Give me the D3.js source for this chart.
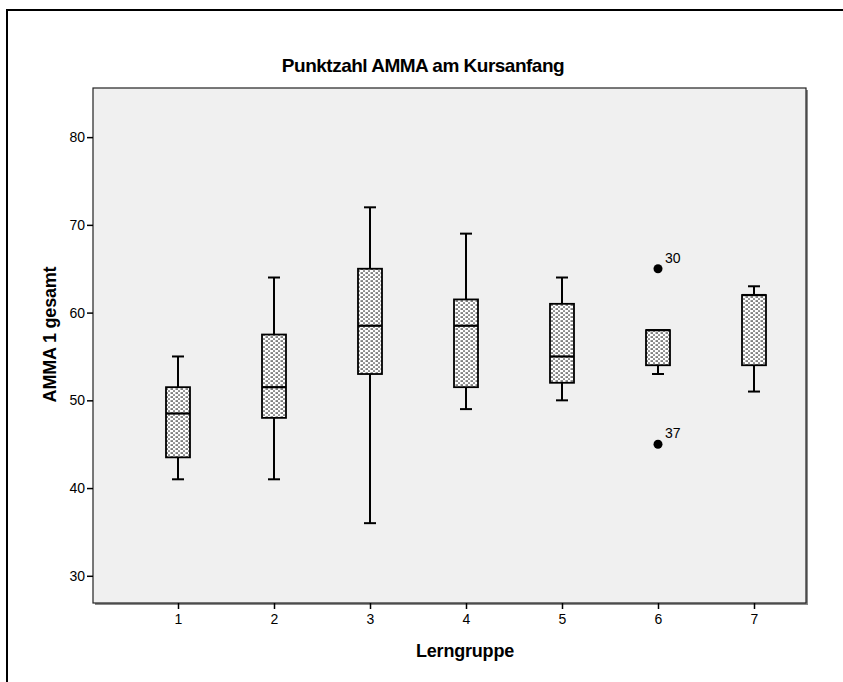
<!DOCTYPE html>
<html>
<head>
<meta charset="utf-8">
<script src="https://cdn.jsdelivr.net/npm/d3@7"></script>
<style>
  html, body { margin: 0; padding: 0; background: #ffffff; overflow: hidden; }
  svg { display: block; overflow: hidden; font-family: "Liberation Sans", Arial, sans-serif; }
</style>
</head>
<body>
<svg id="chart" width="843" height="682"></svg>
<script>
// Lerngruppen (x categories)
const groups = [1, 2, 3, 4, 5, 6, 7];
// Box-plot statistics per group
const whiskerLow  = [41, 41, 36, 49, 50, 53, 51];
const q1          = [43.5, 48, 53, 51.5, 52, 54, 54];
const median      = [48.5, 51.5, 58.5, 58.5, 55, 58, 62];
const q3          = [51.5, 57.5, 65, 61.5, 61, 58, 62];
const whiskerHigh = [55, 64, 72, 69, 64, 58, 63];
// Outliers: group, value, case label
const outlierGroup = [6, 6];
const outlierValue = [65, 45];
const outlierCase  = ["30", "37"];
// Y axis ticks
const yTicks = [30, 40, 50, 60, 70, 80];

const svg = d3.select("#chart");

const plot = { left: 93, right: 806, top: 88, bottom: 603 };

const x = d3.scaleLinear().domain([1, 7]).range([178, 754]);
const y = d3.scaleLinear().domain([26.9, 85.6]).range([plot.bottom, plot.top]);

// Dotted fill pattern for boxes
const defs = svg.append("defs");
const pat = defs.append("pattern")
  .attr("id", "dots").attr("patternUnits", "userSpaceOnUse")
  .attr("width", 5).attr("height", 4);
pat.append("rect").attr("width", 5).attr("height", 4).attr("fill", "#ffffff");
pat.append("rect").attr("x", 0.5).attr("y", 0.4).attr("width", 2.5).attr("height", 1.3).attr("fill", "#484848");
pat.append("rect").attr("x", 3).attr("y", 2.4).attr("width", 2.5).attr("height", 1.3).attr("fill", "#606060");

// Outer frame (cut at right and bottom edges)
svg.append("path")
  .attr("d", `M7,690 L7,10 L850,10`)
  .attr("fill", "none").attr("stroke", "#000").attr("stroke-width", 2);

// Title
svg.append("text")
  .attr("x", 423).attr("y", 72)
  .attr("text-anchor", "middle")
  .attr("font-size", 19).attr("font-weight", "bold")
  .attr("letter-spacing", -0.5)
  .text("Punktzahl AMMA am Kursanfang");

// Plot background and frame
svg.append("rect")
  .attr("x", plot.left + 2).attr("y", plot.top + 2)
  .attr("width", plot.right - plot.left).attr("height", plot.bottom - plot.top)
  .attr("fill", "#8a8a8a");
svg.append("rect")
  .attr("x", plot.left).attr("y", plot.top)
  .attr("width", plot.right - plot.left).attr("height", plot.bottom - plot.top)
  .attr("fill", "#f0f0f0").attr("stroke", "#222").attr("stroke-width", 1.2);

// Y axis
const yAxis = d3.axisLeft(y).tickValues(yTicks).tickSize(6).tickPadding(2).tickSizeOuter(0);
const gy = svg.append("g").attr("transform", `translate(${plot.left},0)`).call(yAxis);
gy.select(".domain").remove();
gy.selectAll(".tick line").attr("stroke", "#000").attr("stroke-width", 1.5);
gy.selectAll(".tick text").attr("font-size", 14).attr("fill", "#000")
  .attr("font-family", "Liberation Sans, Arial, sans-serif");

// X axis
const xAxis = d3.axisBottom(x).tickValues(groups).tickFormat(d3.format("d"))
  .tickSize(6).tickPadding(5).tickSizeOuter(0);
const gx = svg.append("g").attr("transform", `translate(0,${plot.bottom})`).call(xAxis);
gx.select(".domain").remove();
gx.selectAll(".tick line").attr("stroke", "#000").attr("stroke-width", 1.5);
gx.selectAll(".tick text").attr("font-size", 14).attr("fill", "#000")
  .attr("font-family", "Liberation Sans, Arial, sans-serif");

// Axis titles
svg.append("text")
  .attr("x", 465).attr("y", 657)
  .attr("text-anchor", "middle")
  .attr("font-size", 18).attr("font-weight", "bold")
  .attr("letter-spacing", -0.2)
  .text("Lerngruppe");
svg.append("text")
  .attr("transform", `translate(56,${(plot.top + plot.bottom) / 2 - 11}) rotate(-90)`)
  .attr("text-anchor", "middle")
  .attr("font-size", 18).attr("font-weight", "bold")
  .attr("letter-spacing", -0.2)
  .text("AMMA 1 gesamt");

// Box plots
const boxW = 24, capW = 12;
const data = groups.map((g, i) => ({
  g, lo: whiskerLow[i], q1: q1[i], med: median[i], q3: q3[i], hi: whiskerHigh[i]
}));
const boxes = svg.append("g").selectAll("g").data(data).join("g");

boxes.append("line")
  .attr("x1", d => x(d.g)).attr("x2", d => x(d.g))
  .attr("y1", d => y(d.lo)).attr("y2", d => y(d.q1))
  .attr("stroke", "#000").attr("stroke-width", 2);
boxes.append("line")
  .attr("x1", d => x(d.g)).attr("x2", d => x(d.g))
  .attr("y1", d => y(d.q3)).attr("y2", d => y(d.hi))
  .attr("stroke", "#000").attr("stroke-width", 2);
boxes.append("line")
  .attr("x1", d => x(d.g) - capW / 2).attr("x2", d => x(d.g) + capW / 2)
  .attr("y1", d => y(d.lo)).attr("y2", d => y(d.lo))
  .attr("stroke", "#000").attr("stroke-width", 2);
boxes.filter(d => d.hi > d.q3).append("line")
  .attr("x1", d => x(d.g) - capW / 2).attr("x2", d => x(d.g) + capW / 2)
  .attr("y1", d => y(d.hi)).attr("y2", d => y(d.hi))
  .attr("stroke", "#000").attr("stroke-width", 2);
boxes.append("rect")
  .attr("x", d => x(d.g) - boxW / 2).attr("width", boxW)
  .attr("y", d => y(d.q3)).attr("height", d => y(d.q1) - y(d.q3))
  .attr("fill", "url(#dots)").attr("stroke", "#000").attr("stroke-width", 1.8);
boxes.append("line")
  .attr("x1", d => x(d.g) - boxW / 2).attr("x2", d => x(d.g) + boxW / 2)
  .attr("y1", d => y(d.med)).attr("y2", d => y(d.med))
  .attr("stroke", "#000").attr("stroke-width", 2.2);

// Outliers
const outliers = outlierGroup.map((g, i) => ({ g, v: outlierValue[i], label: outlierCase[i] }));
const og = svg.append("g").selectAll("g").data(outliers).join("g");
og.append("circle")
  .attr("cx", d => x(d.g)).attr("cy", d => y(d.v)).attr("r", 4.5)
  .attr("fill", "#000");
og.append("text")
  .attr("x", d => x(d.g) + 7).attr("y", d => y(d.v) - 6)
  .attr("font-size", 14).attr("fill", "#000")
  .text(d => d.label);
</script>
</body>
</html>
